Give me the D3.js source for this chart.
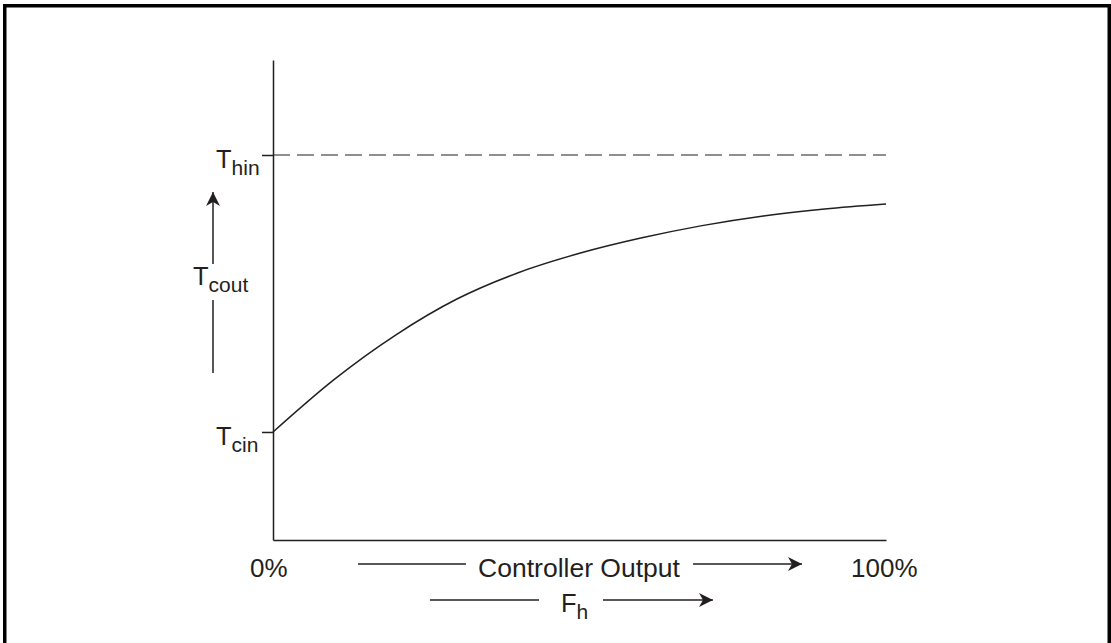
<!DOCTYPE html>
<html>
<head>
<meta charset="utf-8">
<script src="https://cdn.jsdelivr.net/npm/d3@7"></script>
<style>
  html, body { margin: 0; padding: 0; background: #fff; }
  svg { display: block; }
  text { font-family: "Liberation Sans", Arial, Helvetica, sans-serif; fill: #231f20; }
</style>
</head>
<body>
<svg id="chart" width="1111" height="643"></svg>
<script>
// Controller output (% of full scale)
const outputPct = [0, 10, 20, 30, 40, 50, 60, 70, 80, 90, 100];
// Cold-side outlet temperature, normalised so Tcin = 0 and Thin = 1
const tcout = [0, 0.19, 0.35, 0.48, 0.575, 0.645, 0.70, 0.745, 0.78, 0.805, 0.823];
// Reference temperatures on the vertical axis
const refTemps = [
  { key: "Tcin", value: 0, main: "T", sub: "cin" },
  { key: "Thin", value: 1, main: "T", sub: "hin" }
];
const xEndLabels = ["0%", "100%"];

const svg = d3.select("#chart");
const ink = "#231f20";

// page frame
svg.append("rect")
  .attr("x", 4.75).attr("y", 5.75)
  .attr("width", 1104.5).attr("height", 700)
  .attr("fill", "none").attr("stroke", "#000").attr("stroke-width", 3.5);

const x = d3.scaleLinear().domain([0, 100]).range([273, 886]);
const y = d3.scaleLinear().domain([-0.39, 1.343]).range([540, 60]);

// vertical axis with short ticks at Tcin and Thin
const yAxis = svg.append("g")
  .attr("transform", `translate(${x(0)},0)`)
  .call(d3.axisLeft(y).tickValues(refTemps.map(d => d.value))
    .tickSizeInner(11).tickSizeOuter(0).tickFormat(""));
yAxis.selectAll("path, line").attr("stroke", ink).attr("stroke-width", 1.5);

// horizontal axis
const xAxis = svg.append("g")
  .attr("transform", `translate(0,${y.range()[0]})`)
  .call(d3.axisBottom(x).tickValues([]).tickSizeOuter(0));
xAxis.selectAll("path").attr("stroke", ink).attr("stroke-width", 1.5);

// Thin asymptote
svg.append("line")
  .attr("x1", x(0)).attr("x2", x(100))
  .attr("y1", y(1)).attr("y2", y(1))
  .attr("stroke", ink).attr("stroke-width", 1.2)
  .attr("stroke-dasharray", "17,7");

// response curve
const line = d3.line()
  .x((d, i) => x(outputPct[i]))
  .y(d => y(d))
  .curve(d3.curveMonotoneX);
svg.append("path")
  .datum(tcout)
  .attr("d", line)
  .attr("fill", "none")
  .attr("stroke", ink)
  .attr("stroke-width", 1.5);

// label with a subscript
function subLabel(xPos, yPos, main, sub) {
  const t = svg.append("text").attr("x", xPos).attr("y", yPos).attr("font-size", 25.5);
  t.append("tspan").text(main);
  t.append("tspan").attr("dy", 7).attr("font-size", 21).text(sub);
  return t;
}

// reference temperature labels
refTemps.forEach(d => {
  subLabel(216, y(d.value) + 13, d.main, d.sub);
});
subLabel(193, 285, "T", "cout");

// arrow helper (notched arrowhead at the end point)
function arrow(x1, y1, x2, y2, head) {
  const g = svg.append("g");
  g.append("line")
    .attr("x1", x1).attr("y1", y1).attr("x2", x2).attr("y2", y2)
    .attr("stroke", ink).attr("stroke-width", 1.5);
  if (head) {
    const a = Math.atan2(y2 - y1, x2 - x1);
    const L = 14, W = 7, N = 4;
    const p = (dx, dy) => [x2 + dx * Math.cos(a) - dy * Math.sin(a), y2 + dx * Math.sin(a) + dy * Math.cos(a)];
    const pts = [p(0, 0), p(-L, -W), p(-L + N, 0), p(-L, W)];
    g.append("path").attr("d", "M" + pts.map(q => q.join(",")).join("L") + "Z").attr("fill", ink);
  }
}

// vertical Tcout direction indicator
arrow(213, 264, 213, 192, true);
arrow(213, 300, 213, 373, false);

// bottom labels
svg.append("text").attr("x", 250).attr("y", 577).attr("font-size", 26).text(xEndLabels[0]);
svg.append("text").attr("x", 851).attr("y", 577).attr("font-size", 26).text(xEndLabels[1]);
svg.append("text").attr("x", 579).attr("y", 577).attr("font-size", 26.5)
  .attr("text-anchor", "middle").text("Controller Output");
arrow(358, 564, 466, 564, false);
arrow(693, 564, 802, 564, true);

// Fh label
subLabel(561, 612, "F", "h");
arrow(430, 600, 539, 600, false);
arrow(603, 600, 713, 600, true);
</script>
</body>
</html>
